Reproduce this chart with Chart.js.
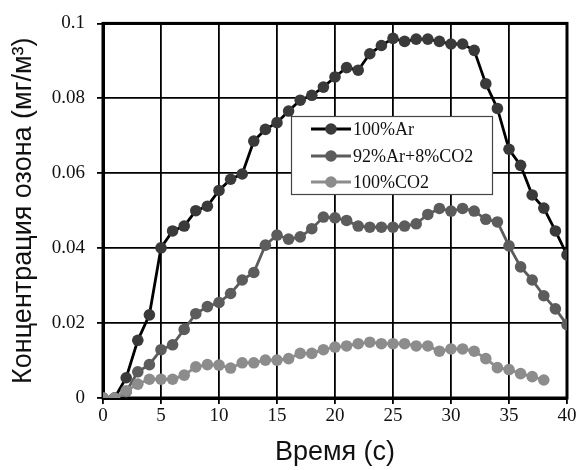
<!DOCTYPE html>
<html>
<head>
<meta charset="utf-8">
<script src="https://cdn.jsdelivr.net/npm/chart.js@4"></script>
<style>
  body { margin: 0; background: #fff; }
  #wrap { width: 578px; height: 470px; }
</style>
</head>
<body>
<div id="wrap"><canvas id="ozoneChart" width="578" height="470"></canvas></div>
<script>
// время, с
var time = [];
for (let t = 0; t <= 40; t++) time.push(t);

// концентрация озона, мг/м3
var ar100 = [0, 0, 0.0054, 0.0154, 0.0222, 0.0401, 0.0446, 0.0459, 0.0500, 0.0512, 0.0554,
  0.0584, 0.0598, 0.0686, 0.0717, 0.0735, 0.0766, 0.0795, 0.0808, 0.0830, 0.0857,
  0.0882, 0.0875, 0.0919, 0.0941, 0.0960, 0.0952, 0.0958, 0.0958, 0.0952, 0.0945,
  0.0945, 0.0928, 0.0839, 0.0773, 0.0664, 0.0621, 0.0542, 0.0507, 0.0446, 0.0382];
var arCo2 = [0, 0, 0.0017, 0.0070, 0.0089, 0.0129, 0.0142, 0.0183, 0.0225, 0.0244, 0.0255,
  0.0279, 0.0315, 0.0335, 0.0408, 0.0435, 0.0424, 0.0430, 0.0452, 0.0483, 0.0481,
  0.0474, 0.0459, 0.0456, 0.0456, 0.0456, 0.0459, 0.0465, 0.0490, 0.0506, 0.0499,
  0.0506, 0.0499, 0.0477, 0.0470, 0.0406, 0.0350, 0.0315, 0.0273, 0.0238, 0.0196];
var co2100 = [0, 0, 0.0019, 0.0037, 0.0050, 0.0050, 0.0050, 0.0061, 0.0083, 0.0089, 0.0088,
  0.0080, 0.0094, 0.0094, 0.0101, 0.0101, 0.0105, 0.0119, 0.0119, 0.0129, 0.0136,
  0.0139, 0.0145, 0.0149, 0.0145, 0.0145, 0.0145, 0.0139, 0.0139, 0.0125, 0.0131,
  0.0131, 0.0125, 0.0105, 0.0081, 0.0076, 0.0065, 0.0057, 0.0048];

var seriesNames = ['100%Ar', '92%Ar+8%CO2', '100%CO2'];
var yTicks = [0, 0.02, 0.04, 0.06, 0.08, 0.1];

function toPoints(vals) {
  var pts = [];
  for (let i = 0; i < vals.length; i++) pts.push({ x: time[i], y: vals[i] });
  return pts;
}

var lineColors = ['#000000', '#5c5c5c', '#8c8c8c'];
var dotColors = ['#3a3a3a', '#5c5c5c', '#8c8c8c'];
var serif = '"Liberation Serif", "Times New Roman", serif';

// рамка вокруг области графика
var framePlugin = {
  id: 'frame',
  beforeDatasetsDraw: function (chart) {
    var a = chart.chartArea, ctx = chart.ctx;
    ctx.save();
    ctx.strokeStyle = '#000';
    ctx.lineWidth = 3;
    ctx.strokeRect(a.left, a.top, a.right - a.left, a.bottom - a.top);
    ctx.restore();
  }
};

// легенда внутри графика
var boxLegend = {
  id: 'boxLegend',
  afterDatasetsDraw: function (chart) {
    var ctx = chart.ctx;
    var bx = 291, by = 116, bw = 201, bh = 78;
    ctx.save();
    ctx.fillStyle = '#fff';
    ctx.fillRect(bx, by, bw, bh);
    ctx.strokeStyle = '#444';
    ctx.lineWidth = 1.2;
    ctx.strokeRect(bx + 0.5, by + 0.5, bw, bh);
    var rows = [129, 156, 182];
    for (let i = 0; i < seriesNames.length; i++) {
      ctx.strokeStyle = lineColors[i];
      ctx.lineWidth = 3;
      ctx.beginPath();
      ctx.moveTo(311, rows[i]);
      ctx.lineTo(351, rows[i]);
      ctx.stroke();
      ctx.fillStyle = dotColors[i];
      ctx.beginPath();
      ctx.arc(331, rows[i], 5.8, 0, Math.PI * 2);
      ctx.fill();
      ctx.fillStyle = '#111';
      ctx.font = '18px ' + serif;
      ctx.textBaseline = 'middle';
      ctx.textAlign = 'left';
      ctx.fillText(seriesNames[i], 353, rows[i] + 1);
    }
    ctx.restore();
  }
};

var datasets = [ar100, arCo2, co2100].map(function (vals, i) {
  return {
    label: seriesNames[i],
    data: toPoints(vals),
    borderColor: lineColors[i],
    borderWidth: 2.8,
    backgroundColor: dotColors[i],
    pointBackgroundColor: dotColors[i],
    pointBorderWidth: 0,
    pointRadius: 5.8,
    tension: 0,
    order: 2 - i
  };
});

new Chart(document.getElementById('ozoneChart'), {
  type: 'line',
  data: { datasets: datasets },
  plugins: [framePlugin, boxLegend],
  options: {
    responsive: false,
    animation: false,
    layout: { padding: { top: 21, right: 11, left: 0, bottom: 0 } },
    plugins: { legend: { display: false }, tooltip: { enabled: false } },
    scales: {
      x: {
        type: 'linear',
        min: 0, max: 40,
        afterFit: function (s) { s.height = 72; },
        ticks: {
          stepSize: 5,
          padding: 1,
          color: '#111',
          font: { family: serif, size: 19 }
        },
        grid: { color: '#000', lineWidth: 1.8, tickLength: 6 },
        border: { color: '#000', width: 3 },
        title: {
          display: true,
          text: 'Время (с)',
          color: '#111',
          font: { family: 'Liberation Sans', size: 27 },
          padding: { top: 0, bottom: 1 }
        }
      },
      y: {
        min: 0, max: 0.1,
        afterFit: function (s) { s.width = 103; },
        afterBuildTicks: function (s) {
          s.ticks = yTicks.map(function (v) { return { value: v }; });
        },
        ticks: {
          padding: 12,
          color: '#111',
          font: { family: serif, size: 19 },
          callback: function (v) { return String(+v.toFixed(2)); }
        },
        grid: { color: '#000', lineWidth: 1.8, tickLength: 6 },
        border: { color: '#000', width: 3 },
        title: {
          display: true,
          text: 'Концентрация озона (мг/м³)',
          color: '#111',
          font: { family: 'Liberation Sans', size: 27 },
          padding: { top: 7, bottom: 0 }
        }
      }
    }
  }
});
</script>
</body>
</html>
